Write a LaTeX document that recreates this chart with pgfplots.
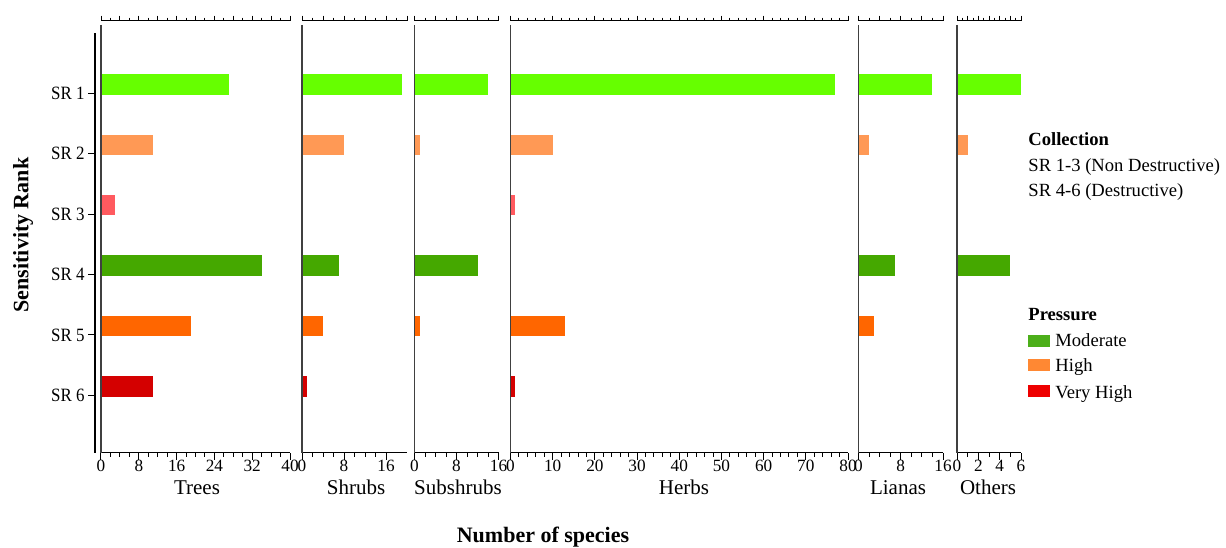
\documentclass[border=0pt]{standalone}
\usepackage{pgfplots}
\pgfplotsset{compat=1.18}
\usepackage{fontspec}
\setmainfont{Liberation Serif}
\newfontfamily\narrowserif{Liberation Serif}[FakeStretch=0.9]

% one colour per sensitivity rank
\definecolor{srone}{HTML}{66FF00}
\definecolor{srtwo}{HTML}{FF9955}
\definecolor{srthree}{HTML}{FF5A5F}
\definecolor{srfour}{HTML}{45A800}
\definecolor{srfive}{HTML}{FF6600}
\definecolor{srsix}{HTML}{D40000}
% pressure legend
\definecolor{moderate}{HTML}{4CAF1A}
\definecolor{high}{HTML}{FF8833}
\definecolor{veryhigh}{HTML}{EE0000}

% one bar, skipped when the count is zero
\newcommand{\srbar}[3]{%
  \ifnum#1>0
    \addplot[draw=none, fill=#3, bar shift=-0.15] coordinates {(#1,#2)};
  \fi
}
% six bars of one life form, SR 1 ... SR 6
\newcommand{\srbars}[6]{%
  \srbar{#1}{1}{srone}
  \srbar{#2}{2}{srtwo}
  \srbar{#3}{3}{srthree}
  \srbar{#4}{4}{srfour}
  \srbar{#5}{5}{srfive}
  \srbar{#6}{6}{srsix}
  \draw[line width=0.7pt, black!75] (axis cs:0,-0.135) -- (axis cs:0,6.95);
}

\pgfplotsset{
  panelbase/.style={
    scale only axis, height=216.05pt, anchor=north west,
    ymin=-0.207, ymax=6.95, y dir=reverse, xmin=0,
    axis y line=none, ytick=\empty,
    tick align=outside,
    axis line style={line width=0.5pt},
    every tick/.style={line width=0.5pt, black},
  },
  panel/.style={
    panelbase, axis x line*=bottom,
    major tick length=3.5pt, minor tick length=2pt,
    xticklabel style={font=\fontsize{8.6}{9}\selectfont, yshift=3.5pt},
    /pgf/number format/assume math mode=true,
    clip=false, xbar, bar width=0.34,
  },
  topscale/.style={
    panelbase, axis x line*=top, xticklabels={},
    major tick length=2.5pt, minor tick length=1.5pt,
  },
}

\begin{document}
\begin{tikzpicture}[x=0.5pt, y=-0.5pt]
\path[use as bounding box] (0,0) rectangle (1226,547);

% rank axis
\begin{axis}[scale only axis, width=1pt, height=209.8pt,
  at={(47.25pt,-16.55pt)}, anchor=north west,
  xmin=0, xmax=1, ymin=0, ymax=6.95, y dir=reverse,
  axis x line=none, axis y line*=left,
  ytick={1,...,6}, yticklabels={SR 1,SR 2,SR 3,SR 4,SR 5,SR 6},
  tick align=outside, major tick length=3.25pt,
  axis line style={line width=1pt},
  every tick/.style={line width=0.5pt, black},
  yticklabel style={font=\narrowserif\fontsize{9.4}{10}\selectfont, inner sep=1.5pt}]
\end{axis}

% Trees
\begin{axis}[panel, at={(50.5pt,-10.3pt)}, width=94.5pt, xmax=40,
  xtick={0,8,...,40}, minor tick num=3]
  \srbars{27}{11}{3}{34}{19}{11}
\end{axis}
\begin{axis}[topscale, at={(50.5pt,-10.3pt)}, width=94.5pt, xmax=40,
  xtick={0,4,...,40}, minor tick num=1]
\end{axis}

% Shrubs
\begin{axis}[panel, at={(151pt,-10.3pt)}, width=52.5pt, xmax=20,
  xtick={0,8,16}, minor tick num=3]
  \srbars{19}{8}{0}{7}{4}{1}
\end{axis}
\begin{axis}[topscale, at={(151pt,-10.3pt)}, width=52.5pt, xmax=20,
  xtick={0,4,...,20}, minor tick num=1]
\end{axis}

% Subshrubs
\begin{axis}[panel, at={(207.25pt,-10.3pt)}, width=42pt, xmax=16,
  xtick={0,8,16}, minor tick num=3]
  \srbars{14}{1}{0}{12}{1}{0}
\end{axis}
\begin{axis}[topscale, at={(207.25pt,-10.3pt)}, width=42pt, xmax=16,
  xtick={0,4,...,16}, minor tick num=1]
\end{axis}

% Herbs
\begin{axis}[panel, at={(255.25pt,-10.3pt)}, width=168.75pt, xmax=80,
  xtick={0,10,...,80}, minor tick num=4]
  \srbars{77}{10}{1}{0}{13}{1}
\end{axis}
\begin{axis}[topscale, at={(255.25pt,-10.3pt)}, width=168.75pt, xmax=80,
  xtick={0,10,...,80}, minor tick num=4]
\end{axis}

% Lianas
\begin{axis}[panel, at={(429.25pt,-10.3pt)}, width=42.25pt, xmax=16,
  xtick={0,8,16}, minor tick num=3]
  \srbars{14}{2}{0}{7}{3}{0}
\end{axis}
\begin{axis}[topscale, at={(429.25pt,-10.3pt)}, width=42.25pt, xmax=16,
  xtick={0,4,...,16}, minor tick num=1]
\end{axis}

% Others
\begin{axis}[panel, at={(478.5pt,-10.3pt)}, width=32pt, xmax=6,
  xtick={0,2,4,6}, minor tick num=1]
  \srbars{6}{1}{0}{5}{0}{0}
\end{axis}
\begin{axis}[topscale, at={(478.5pt,-10.3pt)}, width=32pt, xmax=6,
  xtick={0,1,...,6}, minor tick num=1]
\end{axis}

% life form names
\begin{scope}[every node/.style={anchor=base, font=\fontsize{10.5}{12}\selectfont}]
  \node at (197,494) {Trees};
  \node at (356,494) {Shrubs};
  \node at (458,494) {Subshrubs};
  \node at (684,494) {Herbs};
  \node at (898,494) {Lianas};
  \node at (988,494) {Others};
\end{scope}

% axis titles
\node[anchor=base, font=\bfseries\fontsize{11}{13}\selectfont] at (543,542) {Number of species};
\node[rotate=90, font=\bfseries\fontsize{11}{13}\selectfont] at (23,235) {Sensitivity Rank};

% legend
\begin{scope}[every node/.style={anchor=base west, inner sep=0pt, font=\fontsize{9.3}{11}\selectfont}]
  \node[font=\bfseries\fontsize{9.3}{11}\selectfont] at (1028,145) {Collection};
  \node at (1028,171.7) {SR 1-3 (Non Destructive)};
  \node at (1028,196.7) {SR 4-6 (Destructive)};
  \node[font=\bfseries\fontsize{9.3}{11}\selectfont] at (1028,320) {Pressure};
  \fill[moderate] (1028,335) rectangle (1050,347);
  \fill[high] (1028,358.5) rectangle (1050,370.7);
  \fill[veryhigh] (1028,385) rectangle (1050,397);
  \node at (1055,346.7) {Moderate};
  \node at (1055,371.7) {High};
  \node at (1055,398) {Very High};
\end{scope}
\end{tikzpicture}
\end{document}
